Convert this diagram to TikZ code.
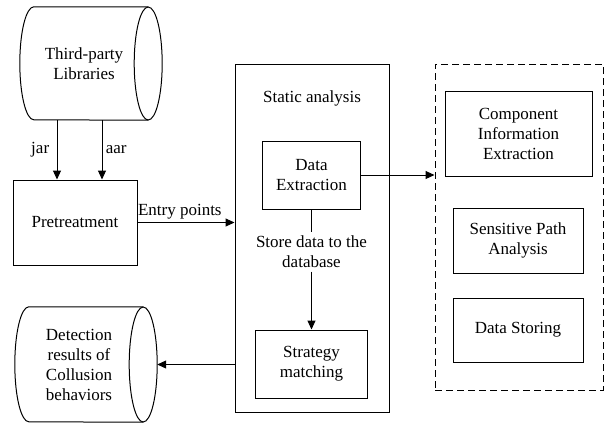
\documentclass[tikz,border=0pt]{standalone}
\usepackage{fontspec}
\setmainfont{Liberation Serif}
\usepackage{tikz}
\usetikzlibrary{arrows.meta}

\begin{document}
\begin{tikzpicture}[x=1pt,y=-1pt,
    every node/.style={font=\fontsize{17}{20}\selectfont,align=center},
    box/.style={draw,line width=1pt},
    store/.style={inner sep=0pt,minimum width=128pt}]
\useasboundingbox (0,0) rectangle (605,432);
%\tikzstyle{store}=[draw,cylinder,shape aspect=0.25]
\begin{scope}
    \node[store,minimum height=113pt] (L) at (84,63.5) {Third-party\\Libraries};
    \node[box,minimum width=124pt,minimum height=85pt] (P) at (75,222.5) {Pretreatment};
    \node[store,minimum height=115pt] (O) at (79,364.5) {Detection\\results of\\Collusion\\behaviors};

    \node[box,minimum width=154pt,minimum height=348pt] (S) at (312,238) {};
    \node (SA) at (312,98) {Static analysis};
    \node[box,minimum width=98pt,minimum height=68pt] (D) at (311.5,175) {Data\\Extraction};
    \node (T) at (311.5,252) {Store data to the\\database};
    \node[box,minimum width=112pt,minimum height=68pt] (M) at (311.5,364) {Strategy\\matching};

    \node[box,dashed,dash pattern=on 7pt off 4pt,minimum width=168pt,minimum height=326pt] (R) at (519,227) {};
    \node[box,minimum width=147pt,minimum height=85pt] (C) at (518.5,133.5) {Component\\Information\\Extraction};
    \node[box,minimum width=130pt,minimum height=65pt] (A) at (518,240.5) {Sensitive Path\\Analysis};
    \node[box,minimum width=130pt,minimum height=64pt] (B) at (518,330) {Data Storing};
\end{scope}

% the two cylinders
\begin{scope}[line width=1pt]
    \draw (L.north east) -- ([xshift=14pt]L.north west) arc[start angle=90,end angle=270,x radius=14pt,y radius=56.5pt] -- (L.south east);
    \draw (L.east) ellipse[x radius=14pt,y radius=56.5pt];
    \draw (O.north east) -- ([xshift=14pt]O.north west) arc[start angle=90,end angle=270,x radius=14pt,y radius=57.5pt] -- (O.south east);
    \draw (O.east) ellipse[x radius=14pt,y radius=57.5pt];
\end{scope}

\begin{scope}[>={Triangle[length=9pt,width=8pt]},
              every edge/.style={draw=black,line width=1pt}]
    \path [->] ([xshift=-27pt]L.south) edge node[left,xshift=-4pt] {jar} ([xshift=-18pt]P.north);
    \path [->] ([xshift=18pt]L.south) edge node[right] {aar} ([xshift=27pt]P.north);
    \path [->] (P.east) edge node[above right,pos=0,inner xsep=0pt] {Entry points} (P.east -| S.west);
    \path [-] (D) edge (T);
    \path [->] (T) edge (M);
    \path [->] (D.east) edge (D.east -| R.west);
    \path [->] (O.east -| S.west) edge ([xshift=14pt]O.east);
\end{scope}
\end{tikzpicture}
\end{document}
